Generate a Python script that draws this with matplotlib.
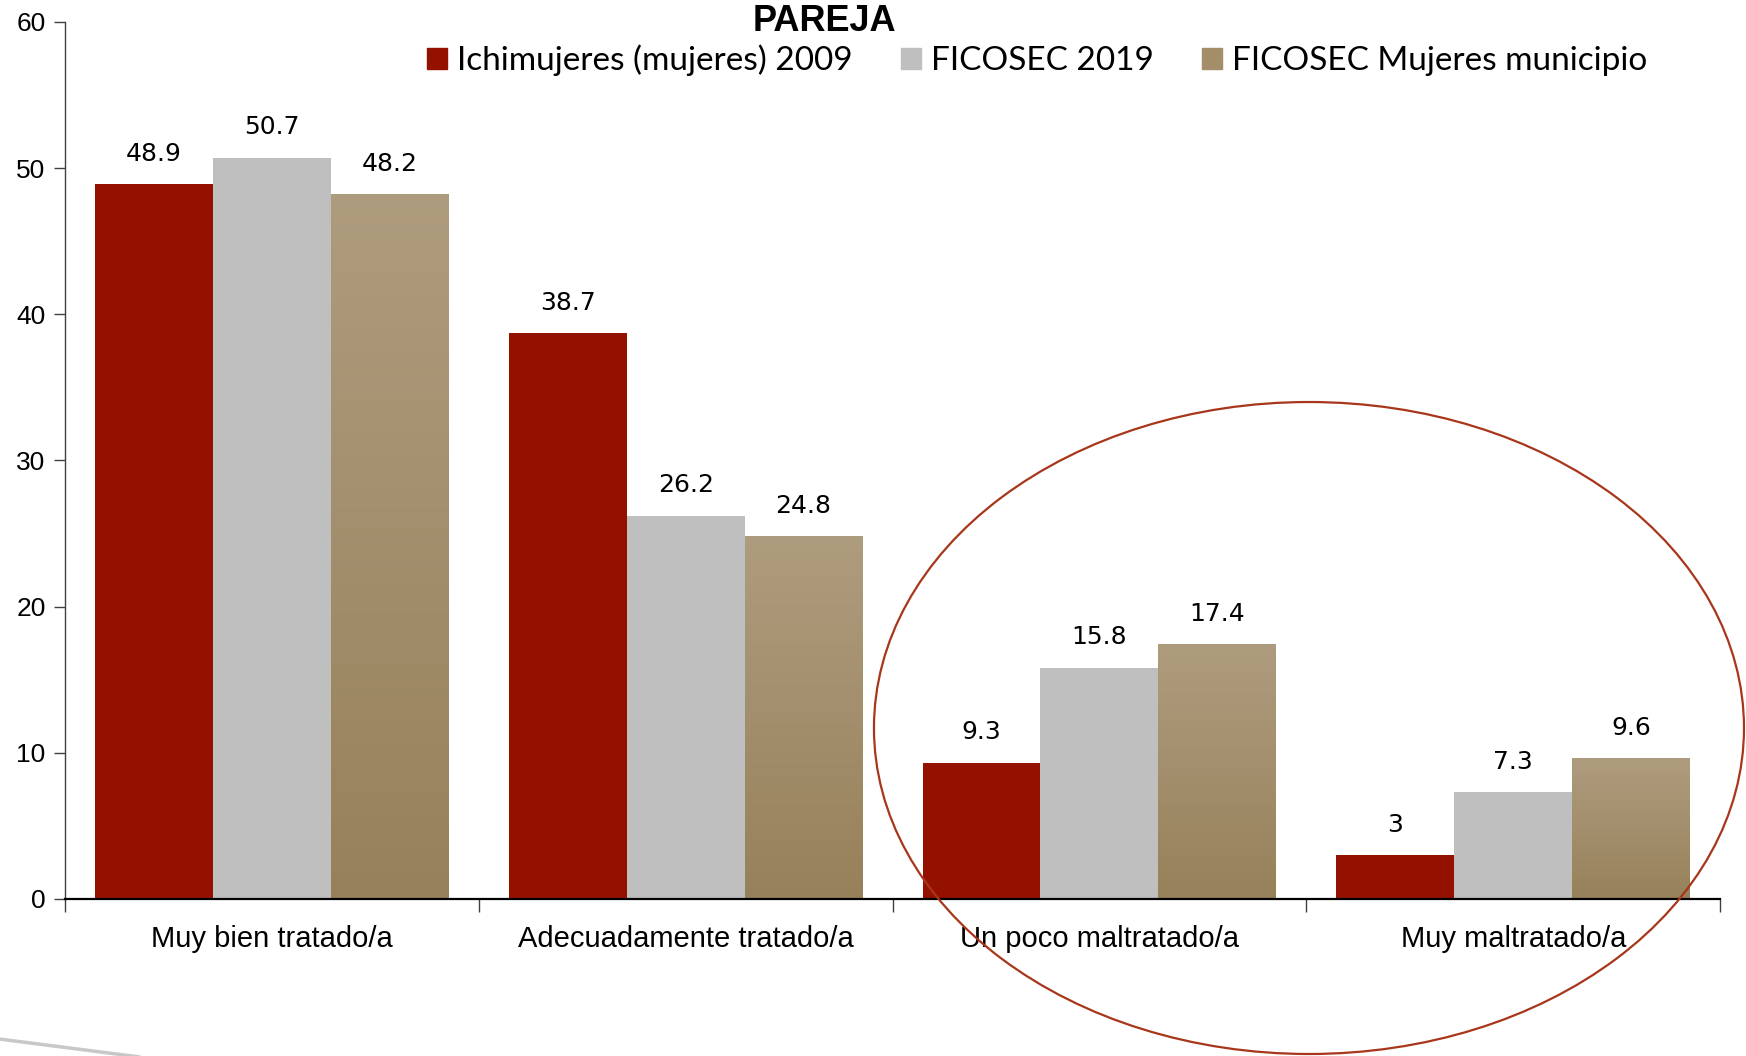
import matplotlib
matplotlib.use("Agg")
from matplotlib import pyplot as plt
from matplotlib.patches import Ellipse, Patch
from matplotlib.lines import Line2D
from matplotlib.colors import LinearSegmentedColormap
import numpy as np

categorias = ["Muy bien tratado/a", "Adecuadamente tratado/a", "Un poco maltratado/a", "Muy maltratado/a"]
series = ["Ichimujeres (mujeres) 2009", "FICOSEC 2019", "FICOSEC Mujeres municipio"]
ichimujeres_2009 = [48.9, 38.7, 9.3, 3]
ficosec_2019 = [50.7, 26.2, 15.8, 7.3]
ficosec_mujeres = [48.2, 24.8, 17.4, 9.6]
etiquetas = ["48.9", "38.7", "9.3", "3"], ["50.7", "26.2", "15.8", "7.3"], ["48.2", "24.8", "17.4", "9.6"]

ROJO = '#941100'
GRIS = '#BFBFBF'
TAN_TOP, TAN_BOT = '#AE9C7E', '#97815A'

fig = plt.figure(figsize=(17.46, 10.56), dpi=100)
ax = fig.add_axes([0.0372, 0.1487, 0.948, 0.8305])

x = np.arange(len(categorias))
w = 0.285
b1 = ax.bar(x - w, ichimujeres_2009, w, color=ROJO, zorder=2)
b2 = ax.bar(x, ficosec_2019, w, color=GRIS, zorder=2)
b3 = ax.bar(x + w, ficosec_mujeres, w, color=TAN_BOT, zorder=2)

# degradado en las barras cafes
cmap = LinearSegmentedColormap.from_list('tan', [TAN_BOT, TAN_TOP])
grad = np.linspace(0, 1, 256).reshape(-1, 1)
for r in b3:
    x0, h = r.get_x(), r.get_height()
    ax.imshow(grad, extent=[x0, x0 + r.get_width(), 0, h], origin='lower',
              aspect='auto', cmap=cmap, zorder=2.5)

for cont, labs in zip([b1, b2, b3], etiquetas):
    for r, lab in zip(cont, labs):
        ax.annotate(lab, (r.get_x() + r.get_width() / 2, r.get_height()),
                    xytext=(0, 22), textcoords='offset points', ha='center', va='center',
                    fontsize=18, family='DejaVu Sans', color='black')

ax.set_xlim(-0.5, 3.5)
ax.set_ylim(0, 60)
ax.set_yticks(range(0, 61, 10))
ax.tick_params(axis='y', length=8, width=1, pad=6, labelsize=19, color='#404040')
for t in ax.get_yticklabels():
    t.set_family('Liberation Sans')

ax.set_xticks([-0.5, 0.5, 1.5, 2.5, 3.5])
ax.set_xticklabels([])
ax.tick_params(axis='x', which='major', length=9, width=1, color='#404040')
ax.set_xticks(x, minor=True)
ax.set_xticklabels(categorias, minor=True, fontsize=21, family='Liberation Sans')
ax.tick_params(axis='x', which='minor', length=0, pad=19)

for s in ['top', 'right']:
    ax.spines[s].set_visible(False)
ax.spines['left'].set_color('#404040')
ax.spines['left'].set_linewidth(1)
ax.spines['bottom'].set_color('black')
ax.spines['bottom'].set_linewidth(1.6)

fig.text(0.472, 0.980, "PAREJA", ha='center', va='center', fontsize=26,
         fontweight='bold', family='Liberation Sans')

handles = [Patch(color=ROJO), Patch(color=GRIS), Patch(color='#A38E69')]
fig.legend(handles, series, loc='center', bbox_to_anchor=(0.594, 0.943), ncol=3,
           frameon=False, prop={'family': 'Lato', 'size': 24},
           handlelength=0.6, handleheight=0.6, handletextpad=0.3, columnspacing=1.45)

# elipse que resalta las dos ultimas categorias
fig.patches.append(Ellipse((0.7497, 0.3106), 0.4983, 0.6174, transform=fig.transFigure,
                           fill=False, edgecolor='#A8361A', linewidth=1.6, zorder=5))

# trazo gris decorativo abajo a la izquierda
fig.lines.append(Line2D([0.0, 0.085], [0.016, -0.002], transform=fig.transFigure,
                        color='#C8C8C8', linewidth=2.5, solid_capstyle='round'))

fig.savefig('out.png', dpi=100)
